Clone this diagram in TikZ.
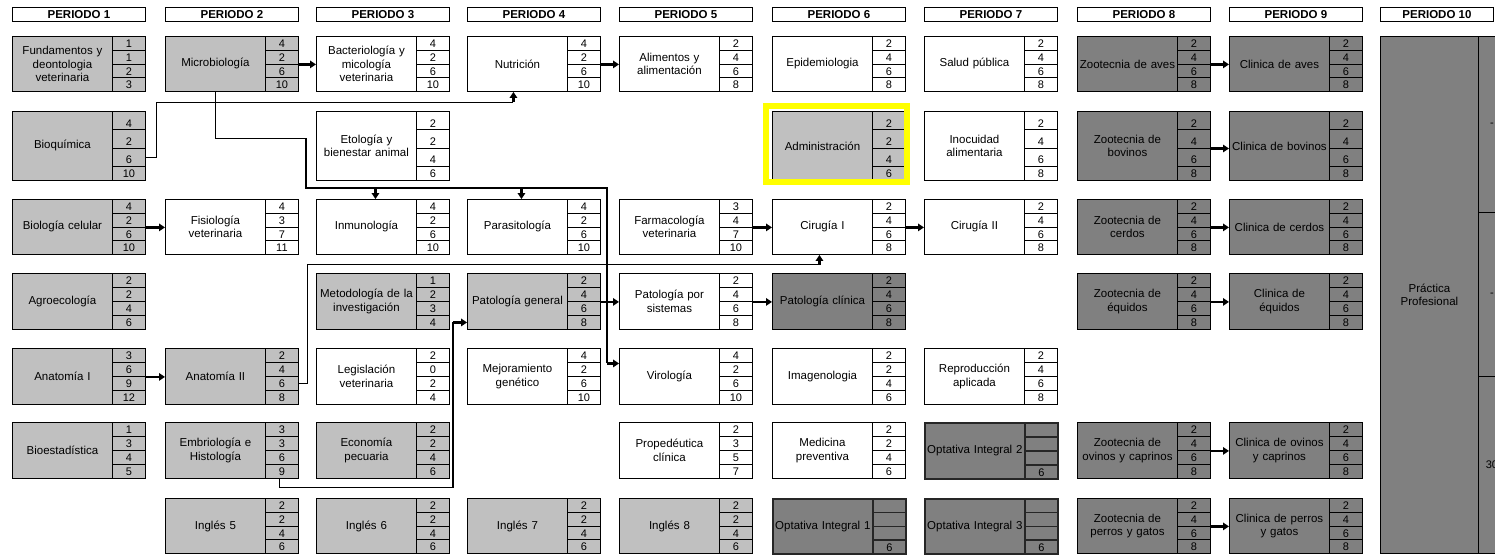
\documentclass[tikz,border=0pt]{standalone}
\usepackage{fontspec}
\setmainfont{Liberation Sans}
\usetikzlibrary{arrows.meta,calc}
\definecolor{lg}{RGB}{192,192,192}
\definecolor{dg}{RGB}{128,128,128}
\definecolor{hl}{RGB}{255,255,0}
\tikzset{
 cellextra/.style={},
 namecell/.style={draw=black, line width=0.9pt, anchor=north west, minimum width=100pt, text width=98pt, inner sep=1pt, align=center, font=\fontsize{11.5}{13.5}\selectfont, cellextra},
 numcell/.style={draw=black, line width=0.9pt, anchor=north west, minimum width=33pt, inner sep=0pt, cellextra},
 numtext/.style={anchor=base, inner sep=0pt, font=\fontsize{11}{13}\selectfont},
 hdr/.style={draw=black, line width=0.9pt, fill=white, anchor=north west, minimum width=133pt, minimum height=14pt, inner sep=0pt, font=\bfseries\fontsize{11.5}{13}\selectfont},
 conn/.style={draw=black, line width=1.1pt},
 tip/.style={draw=black, line width=2.2pt, -{Triangle[length=6pt,width=7.5pt]}},
}
\newcommand\course[9]{%
 \pgfmathsetmacro\cx{{12,165,316,467,619,772,924,1077,1229,1380}[#2-1]}%
 \pgfmathsetmacro\ry{{36,111,199,273,348,422,498}[#3-1]}%
 \pgfmathsetmacro\rh{{55,69,55,56,56,56,55}[#3-1]}%
 \ifnum#3=2 \def\ca{18.3}\def\cd{14.1}\else\pgfmathsetmacro\ca{\rh/4}\let\cd\ca\fi
 \node[namecell, fill=#4, minimum height=\rh pt] (#1) at (\cx,\ry) {#5};
 \node[numcell, fill=#4, minimum height=\ca pt] (#1-1) at (\cx+100,\ry) {};
 \node[numcell, fill=#4, minimum height=\ca pt] (#1-2) at (\cx+100,\ry+\ca) {};
 \node[numcell, fill=#4, minimum height=\ca pt] (#1-3) at (\cx+100,\ry+2*\ca) {};
 \node[numcell, fill=#4, minimum height=\cd pt] (#1-4) at (\cx+100,\ry+3*\ca) {};
 \node[numtext] (#1-t1) at ([yshift=3pt]#1-1.south) {#6};
 \node[numtext] (#1-t2) at ([yshift=3pt]#1-2.south) {#7};
 \node[numtext] (#1-t3) at ([yshift=3pt]#1-3.south) {#8};
 \node[numtext] (#1-t4) at ([yshift=3pt]#1-4.south) {#9};
}
\newcommand\sarrow[2]{\draw[tip] (#1-2.south east) -- (#2.west |- #1-2.south east);}
\begin{document}
\begin{tikzpicture}[x=1pt,y=-1pt]
\path[use as bounding box] (0,0) rectangle (1495,555);
\clip (0,0) rectangle (1495,555);
% headers
\foreach \i/\x in {1/12,2/165,3/316,4/467,5/619,6/772,7/924,8/1077,9/1229}
  \node[hdr] (hdr\i) at (\x,7) {PERIODO \i};
\node[hdr, minimum width=113pt] (hdr10) at (1380,7) {PERIODO 10};
% period 1
\course{fund}{1}{1}{lg}{Fundamentos y\\deontologia\\veterinaria}{1}{1}{2}{3}
\course{bioq}{1}{2}{lg}{Bioquímica}{4}{2}{6}{10}
\course{biocel}{1}{3}{lg}{Biología celular}{4}{2}{6}{10}
\course{agro}{1}{4}{lg}{Agroecología}{2}{2}{4}{6}
\course{anat1}{1}{5}{lg}{Anatomía I}{3}{6}{9}{12}
\course{bioest}{1}{6}{lg}{Bioestadística}{1}{3}{4}{5}
% period 2
\course{micro}{2}{1}{lg}{Microbiología}{4}{2}{6}{10}
\course{fisio}{2}{3}{white}{Fisiología\\veterinaria}{4}{3}{7}{11}
\course{anat2}{2}{5}{lg}{Anatomía II}{2}{4}{6}{8}
\course{embr}{2}{6}{lg}{Embriología e\\Histología}{3}{3}{6}{9}
\course{ing5}{2}{7}{lg}{Inglés 5}{2}{2}{4}{6}
% period 3
\course{bact}{3}{1}{white}{Bacteriología y\\micología\\veterinaria}{4}{2}{6}{10}
\course{etol}{3}{2}{white}{Etología y\\bienestar animal}{2}{2}{4}{6}
\course{inmu}{3}{3}{white}{Inmunología}{4}{2}{6}{10}
\course{metod}{3}{4}{lg}{Metodología de la\\investigación}{1}{2}{3}{4}
\course{legis}{3}{5}{white}{Legislación\\veterinaria}{2}{0}{2}{4}
\course{econ}{3}{6}{lg}{Economía\\pecuaria}{2}{2}{4}{6}
\course{ing6}{3}{7}{lg}{Inglés 6}{2}{2}{4}{6}
% period 4
\course{nutr}{4}{1}{white}{Nutrición}{4}{2}{6}{10}
\course{paras}{4}{3}{white}{Parasitología}{4}{2}{6}{10}
\course{patgen}{4}{4}{lg}{Patología general}{2}{4}{6}{8}
\course{mejor}{4}{5}{white}{Mejoramiento\\genético}{4}{2}{6}{10}
\course{ing7}{4}{7}{lg}{Inglés 7}{2}{2}{4}{6}
% period 5
\course{alim}{5}{1}{white}{Alimentos y\\alimentación}{2}{4}{6}{8}
\course{farma}{5}{3}{white}{Farmacología\\veterinaria}{3}{4}{7}{10}
\course{patsis}{5}{4}{white}{Patología por\\sistemas}{2}{4}{6}{8}
\course{virol}{5}{5}{white}{Virología}{4}{2}{6}{10}
\course{proped}{5}{6}{white}{Propedéutica\\clínica}{2}{3}{5}{7}
\course{ing8}{5}{7}{lg}{Inglés 8}{2}{2}{4}{6}
% period 6
\course{epid}{6}{1}{white}{Epidemiologia}{2}{4}{6}{8}
\course{admin}{6}{2}{lg}{Administración}{2}{2}{4}{6}
\draw[draw=hl, line width=6pt] ([xshift=-6pt,yshift=5pt]admin.north west) rectangle ([xshift=1pt,yshift=-1.5pt]admin-4.south east);
\course{cir1}{6}{3}{white}{Cirugía I}{2}{4}{6}{8}
\course{patcli}{6}{4}{dg}{Patología clínica}{2}{4}{6}{8}
\course{imag}{6}{5}{white}{Imagenologia}{2}{2}{4}{6}
\course{medprev}{6}{6}{white}{Medicina\\preventiva}{2}{2}{4}{6}
% period 7
\course{salud}{7}{1}{white}{Salud pública}{2}{4}{6}{8}
\course{inoc}{7}{2}{white}{Inocuidad\\alimentaria}{2}{4}{6}{8}
\course{cir2}{7}{3}{white}{Cirugía II}{2}{4}{6}{8}
\course{repro}{7}{5}{white}{Reproducción\\aplicada}{2}{4}{6}{8}
\begin{scope}[cellextra/.style={line width=1.7pt, draw=black!85}]
\course{opt1}{6}{7}{dg}{Optativa Integral 1}{}{}{}{6}
\course{opt2}{7}{6}{dg}{Optativa Integral 2}{}{}{}{6}
\course{opt3}{7}{7}{dg}{Optativa Integral 3}{}{}{}{6}
\end{scope}
% period 8
\course{zaves}{8}{1}{dg}{Zootecnia de aves}{2}{4}{6}{8}
\course{zbov}{8}{2}{dg}{Zootecnia de\\bovinos}{2}{4}{6}{8}
\course{zcer}{8}{3}{dg}{Zootecnia de\\cerdos}{2}{4}{6}{8}
\course{zequ}{8}{4}{dg}{Zootecnia de\\équidos}{2}{4}{6}{8}
\course{zovi}{8}{6}{dg}{Zootecnia de\\ovinos y caprinos}{2}{4}{6}{8}
\course{zper}{8}{7}{dg}{Zootecnia de\\perros y gatos}{2}{4}{6}{8}
% period 9
\course{caves}{9}{1}{dg}{Clinica de aves}{2}{4}{6}{8}
\course{cbov}{9}{2}{dg}{Clinica de bovinos}{2}{4}{6}{8}
\course{ccer}{9}{3}{dg}{Clinica de cerdos}{2}{4}{6}{8}
\course{cequ}{9}{4}{dg}{Clinica de\\équidos}{2}{4}{6}{8}
\course{covi}{9}{6}{dg}{Clinica de ovinos\\y caprinos}{2}{4}{6}{8}
\course{cper}{9}{7}{dg}{Clinica de perros\\y gatos}{2}{4}{6}{8}
% period 10
\node[namecell, fill=dg, minimum width=98pt, text width=96pt, minimum height=517pt] (pract) at (1380,36) {Práctica\\Profesional};
\node[numcell, fill=dg, minimum height=176pt] (pract-1) at (1478,36) {};
\node[numcell, fill=dg, minimum height=164pt] (pract-2) at (1478,212) {};
\node[numcell, fill=dg, minimum height=177pt] (pract-3) at (1478,376) {};
\node[font=\fontsize{11}{13}\selectfont] (pract-t1) at ([xshift=-3pt]pract-1.center) {-};
\node[font=\fontsize{11}{13}\selectfont] (pract-t2) at ([xshift=-3pt]pract-2.center) {-};
\node[font=\fontsize{11}{13}\selectfont] (pract-t3) at ([xshift=-3pt]pract-3.center) {30};
% short arrows
\sarrow{micro}{bact}
\sarrow{nutr}{alim}
\sarrow{biocel}{fisio}
\sarrow{farma}{cir1}
\sarrow{cir1}{cir2}
\sarrow{patgen}{patsis}
\sarrow{patsis}{patcli}
\sarrow{anat1}{anat2}
\sarrow{zaves}{caves}
\sarrow{zbov}{cbov}
\sarrow{zcer}{ccer}
\sarrow{zequ}{cequ}
\sarrow{zovi}{covi}
\sarrow{zper}{cper}
% Bioquimica -> Nutricion
\coordinate (nT) at ([xshift=-4pt]nutr.south);
\coordinate (n1) at ([yshift=-10.5pt]nT);
\draw[conn] (bioq-3.east) -- ++(11,0) |- (n1);
\draw[tip] (n1) -- (nT);
% Microbiologia -> Inmunologia, Parasitologia, Virologia
\coordinate (m1) at ([xshift=-10pt,yshift=11pt]inmu.north west);
\coordinate (vT) at ([yshift=13pt]virol.west);
\coordinate (m2) at ([xshift=-12pt]virol.west |- m1);
\coordinate (m3) at (m2 |- vT);
\draw[conn] (micro.south) -- ++(0,47) -| (m1) -- (m2) -- (m3);
\draw[tip] (m3) -- (vT);
\coordinate (iT) at ([xshift=9pt]inmu.north);
\draw[tip] (iT |- m1) -- (iT);
\coordinate (pT) at ([xshift=4pt]paras.north);
\draw[tip] (pT |- m1) -- (pT);
% Anatomia II -> Cirugia I
\coordinate (a1) at ([xshift=9pt]anat2-3.east);
\coordinate (cT) at ([xshift=-3pt]cir1.south);
\coordinate (a2) at ([yshift=-10pt]cT);
\draw[conn] (anat2-3.east) -- (a1) |- (a2);
\draw[tip] (a2) -- (cT);
% Embriologia -> Patologia general
\coordinate (e0) at ([xshift=-2.5pt]embr-4.south);
\coordinate (e1) at ([yshift=-9pt]e0);
\coordinate (gT) at ([yshift=-21pt]patgen.west);
\coordinate (e2) at ([xshift=-14pt]gT);
\draw[conn] (e0) -- (e1) -| (e2);
\draw[tip] (e2) -- (gT);
\end{tikzpicture}
\end{document}
